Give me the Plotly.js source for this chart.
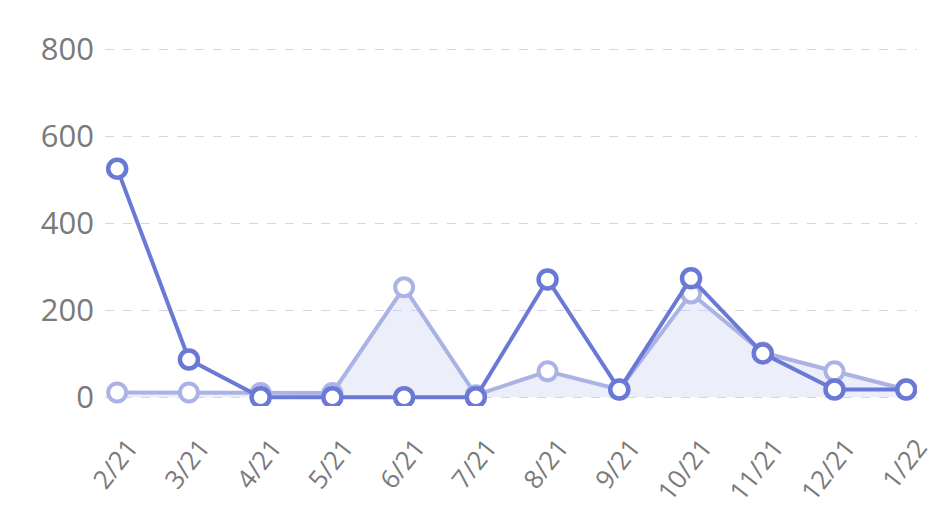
<!DOCTYPE html>
<html>
<head>
<meta charset="utf-8">
<script src="https://cdn.plot.ly/plotly-3.0.1.min.js"></script>
<style>html,body{margin:0;padding:0;background:#fff;}#chart{width:942px;height:519px;}</style>
</head>
<body>
<div id="chart"></div>
<script>
const months = ["2/21","3/21","4/21","5/21","6/21","7/21","8/21","9/21","10/21","11/21","12/21","1/22"];
const seriesDark = [526, 87, 0, 0, 0, 0, 271, 18, 274, 101, 18, 18];
const seriesLight = [11, 11, 10, 10, 253, 5, 60, 18, 239, 103, 60, 18];
const yTicks = [0, 200, 400, 600, 800];

const traces = [
  {
    x: months, y: seriesLight, type: 'scatter', mode: 'lines+markers',
    fill: 'tozeroy', fillcolor: 'rgba(205,209,238,0.38)',
    line: {color: '#aab2e6', width: 4},
    marker: {size: 18, color: '#ffffff', line: {color: '#aab2e6', width: 4}},
    hoverinfo: 'skip', showlegend: false
  },
  {
    x: months, y: seriesDark, type: 'scatter', mode: 'lines+markers',
    line: {color: '#6a79d5', width: 4},
    marker: {size: 18, color: '#ffffff', line: {color: '#6a79d5', width: 4.5}},
    hoverinfo: 'skip', showlegend: false
  }
];

const layout = {
  width: 942, height: 519,
  margin: {l: 105, r: 25, t: 30, b: 113},
  paper_bgcolor: '#ffffff', plot_bgcolor: '#ffffff',
  font: {family: 'Open Sans, sans-serif', color: '#7a7a7a'},
  xaxis: {
    type: 'category', range: [-0.17, 11.15],
    showgrid: false, zeroline: false, showline: false,
    tickangle: -52, ticks: '', ticklabelstandoff: 20, ticklabelshift: 12,
    tickfont: {size: 26, color: '#7a7a7a'}
  },
  yaxis: {
    range: [-20, 845], tickvals: yTicks, ticktext: yTicks.map(String),
    showgrid: true, gridcolor: '#d3d5f0', griddash: 'dash', gridwidth: 1.2,
    zeroline: false, showline: false, ticks: '', ticklabelstandoff: 10,
    tickfont: {size: 31, color: '#7a7a7a'}
  }
};

Plotly.newPlot('chart', traces, layout, {displayModeBar: false, staticPlot: true});
</script>
</body>
</html>
